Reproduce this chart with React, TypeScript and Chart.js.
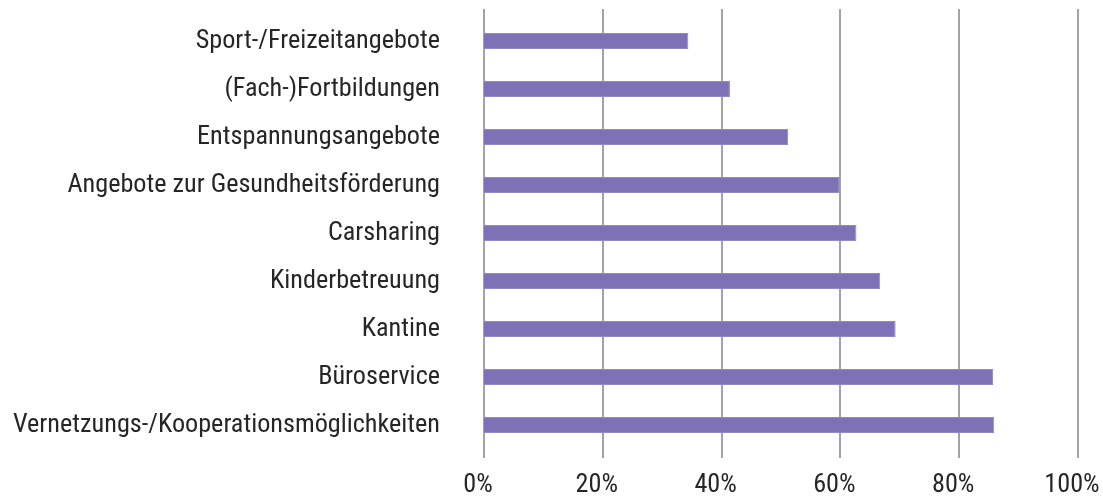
import React, { useEffect, useRef } from 'react';
import { Chart, registerables } from 'chart.js';

Chart.register(...registerables);

const categories = [
  'Sport-/Freizeitangebote',
  '(Fach-)Fortbildungen',
  'Entspannungsangebote',
  'Angebote zur Gesundheitsförderung',
  'Carsharing',
  'Kinderbetreuung',
  'Kantine',
  'Büroservice',
  'Vernetzungs-/Kooperationsmöglichkeiten',
];
const values = [34.4, 41.4, 51.2, 59.9, 62.7, 66.7, 69.3, 85.7, 85.9];
const xTickValues = [0, 20, 40, 60, 80, 100];

const BASE_SIZE = 25;
const TARGET_WIDTH = 428;

function pickFont(): { family: string; weight: string | undefined; size: number } {
  const ctx = document.createElement('canvas').getContext('2d')!;
  const longest = categories.reduce((a, b) => (b.length > a.length ? b : a), '');
  const measure = (f: string) => {
    ctx.font = f;
    return ctx.measureText(longest).width;
  };
  const installed = (fam: string) => {
    const m1 = measure(`${BASE_SIZE}px ${fam}, monospace`);
    const m2 = measure(`${BASE_SIZE}px monospace`);
    const s1 = measure(`${BASE_SIZE}px ${fam}, serif`);
    const s2 = measure(`${BASE_SIZE}px serif`);
    return Math.abs(m1 - m2) > 0.5 || Math.abs(s1 - s2) > 0.5;
  };
  const families = [
    "'Roboto Condensed'",
    'Roboto',
    "'Liberation Sans Narrow'",
    "'DejaVu Sans Condensed'",
    "'Liberation Sans'",
    "'Noto Sans'",
    "'Open Sans'",
    'Inter',
    'Lato',
  ];
  let best = { family: 'Roboto', weight: undefined as string | undefined, width: Infinity, score: Infinity };
  families.forEach((fam, i) => {
    if (!installed(fam)) return;
    for (const stretch of ['semi-condensed', 'condensed', '']) {
      const w = measure(`${stretch ? stretch + ' ' : ''}${BASE_SIZE}px ${fam}, sans-serif`);
      const diff = Math.abs(w - TARGET_WIDTH) + i * 2;
      if (diff < best.score) best = { family: fam, weight: stretch || undefined, width: w, score: diff };
    }
  });
  let size = BASE_SIZE;
  const ratio = TARGET_WIDTH / best.width;
  if (ratio < 1 || ratio < 1.08) size = Math.round(BASE_SIZE * ratio * 10) / 10;
  return { family: `${best.family}, sans-serif`, weight: best.weight, size };
}

const gridPlugin = {
  id: 'vgrid',
  beforeDatasetsDraw(chart: any) {
    const { ctx, chartArea } = chart;
    const x = chart.scales.x;
    ctx.save();
    ctx.strokeStyle = '#a3a3a3';
    ctx.lineWidth = 2;
    x.ticks.forEach((t: any) => {
      const px = Math.round(x.getPixelForValue(t.value));
      ctx.beginPath();
      ctx.moveTo(px, chartArea.top - 8);
      ctx.lineTo(px, chartArea.bottom + 9);
      ctx.stroke();
    });
    ctx.restore();
  },
};

export default function App() {
  const ref = useRef<HTMLCanvasElement | null>(null);

  useEffect(() => {
    document.body.style.margin = '0';
    const f = pickFont();
    const font: any = { family: f.family, size: f.size, weight: f.weight };
    const chart = new Chart(ref.current!, {
      type: 'bar',
      data: {
        labels: categories,
        datasets: [
          {
            data: values,
            backgroundColor: '#7f71b5',
            borderColor: '#9489c4',
            borderWidth: 1,
            borderSkipped: 'left',
            barPercentage: 16 / 48,
            categoryPercentage: 1,
          },
        ],
      },
      options: {
        indexAxis: 'y',
        animation: false,
        responsive: false,
        devicePixelRatio: 1,
        layout: { padding: { top: 17, right: 25, left: 0, bottom: 0 } },
        plugins: { legend: { display: false }, tooltip: { enabled: false } },
        scales: {
          x: {
            min: 0,
            max: 100,
            afterBuildTicks: (s: any) => {
              s.ticks = xTickValues.map((v) => ({ value: v }));
            },
            afterFit: (s: any) => {
              s.height = 48;
              s.paddingLeft = 0;
              s.paddingRight = 0;
            },
            grid: { display: false, drawTicks: false },
            border: { display: false },
            ticks: {
              font,
              color: '#262626',
              padding: 21,
              labelOffset: -6,
              maxRotation: 0,
              autoSkip: false,
              callback: (v: any) => `${v}%`,
            },
          },
          y: {
            afterFit: (s: any) => {
              s.width = 484;
              s.paddingTop = 0;
              s.paddingBottom = 0;
            },
            grid: { display: false, drawTicks: false },
            border: { display: false },
            ticks: { font, color: '#262626', padding: 44, autoSkip: false },
          },
        },
      },
      plugins: [gridPlugin],
    });
    return () => chart.destroy();
  }, []);

  return (
    <div style={{ width: 1103, height: 497 }}>
      <canvas ref={ref} width={1103} height={497} style={{ display: 'block' }} />
    </div>
  );
}
